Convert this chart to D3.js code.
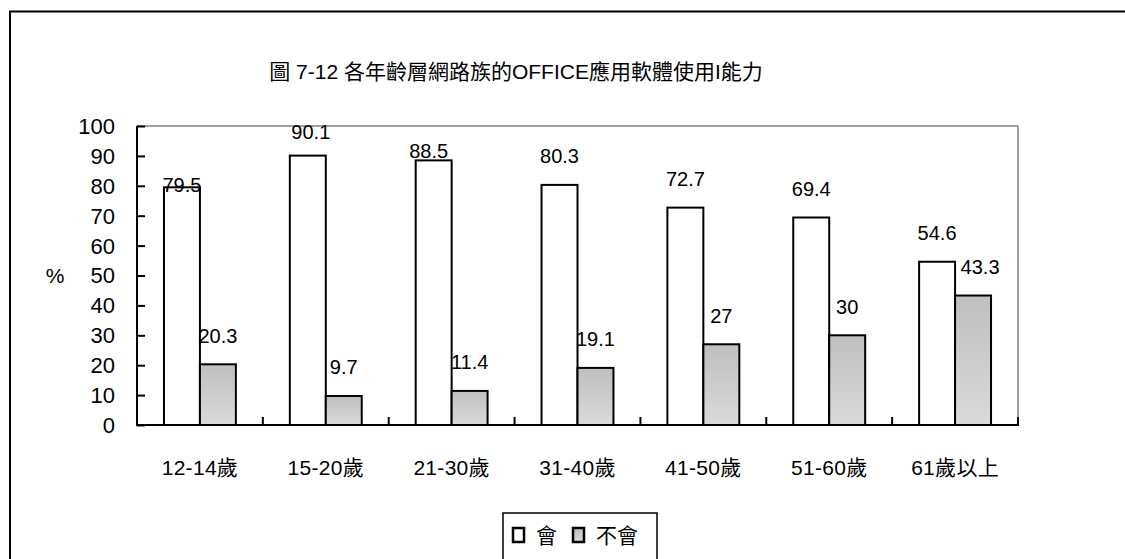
<!DOCTYPE html>
<html>
<head>
<meta charset="utf-8">
<script src="https://cdn.jsdelivr.net/npm/d3@7"></script>
<style>
  html, body { margin: 0; padding: 0; background: #fff; overflow: hidden; }
  svg { display: block; }
  text { font-family: "Liberation Sans", Arial, "Noto Sans CJK TC", sans-serif; fill: #000; }
</style>
</head>
<body>
<svg id="chart" width="1125" height="559"></svg>
<script>
// ---- data ----
const categories = ["12-14歲", "15-20歲", "21-30歲", "31-40歲", "41-50歲", "51-60歲", "61歲以上"];
const seriesNames = ["會", "不會"];
const canValues = [79.5, 90.1, 88.5, 80.3, 72.7, 69.4, 54.6];
const cannotValues = [20.3, 9.7, 11.4, 19.1, 27, 30, 43.3];
const valueLabels = [
  ["79.5", "90.1", "88.5", "80.3", "72.7", "69.4", "54.6"],
  ["20.3", "9.7", "11.4", "19.1", "27", "30", "43.3"]
];
const yTicks = [0, 10, 20, 30, 40, 50, 60, 70, 80, 90, 100];
const titleText = "圖 7-12 各年齡層網路族的OFFICE應用軟體使用I能力";
const yAxisTitle = "%";

// ---- layout ----
const svg = d3.select("#chart");
const plot = { left: 137, right: 1018, top: 126, bottom: 425 };
// label nudges (dx, dy) relative to default placement, per series/category
const labelNudge = {
  "0-0": [0, 26], "0-1": [3, 4.5], "0-2": [-5, 19], "1-6": [7, 0]
};

const x0 = d3.scaleBand().domain(categories).range([plot.left, plot.right]).paddingInner(0).paddingOuter(0);
const x1 = d3.scaleBand().domain(seriesNames).range([0, x0.bandwidth()]).paddingInner(0).paddingOuter(0.75);
const y = d3.scaleLinear().domain([0, 100]).range([plot.bottom, plot.top]);

// gradient for 不會
const defs = svg.append("defs");
const grad = defs.append("linearGradient").attr("id", "gray").attr("x1", 0).attr("y1", 0).attr("x2", 0).attr("y2", 1);
grad.append("stop").attr("offset", "0%").attr("stop-color", "#bfbfbf");
grad.append("stop").attr("offset", "100%").attr("stop-color", "#dadada");
const lgrad = defs.append("linearGradient").attr("id", "lgray").attr("x1", 0).attr("y1", 0).attr("x2", 0).attr("y2", 1);
lgrad.append("stop").attr("offset", "0%").attr("stop-color", "#bdbdbd");
lgrad.append("stop").attr("offset", "100%").attr("stop-color", "#dcdcdc");

// outer border: only top and left edges are visible
svg.append("path").attr("d", "M10,600V11.5H1200")
  .attr("fill", "none").attr("stroke", "#000").attr("stroke-width", 2);

// title
svg.append("text").attr("x", 516).attr("y", 79).attr("text-anchor", "middle")
  .style("font-size", "21px").text(titleText);

// plot frame (gray top & right)
svg.append("line").attr("x1", plot.left).attr("x2", plot.right).attr("y1", plot.top).attr("y2", plot.top)
  .attr("stroke", "#808080").attr("stroke-width", 1.5);
svg.append("line").attr("x1", plot.right).attr("x2", plot.right).attr("y1", plot.top).attr("y2", plot.bottom)
  .attr("stroke", "#808080").attr("stroke-width", 1.5);

// bars
const seriesData = [canValues, cannotValues];
const fills = ["#ffffff", "url(#gray)"];
seriesData.forEach((vals, si) => {
  svg.append("g").selectAll("rect").data(vals).join("rect")
    .attr("x", (d, i) => x0(categories[i]) + x1(seriesNames[si]))
    .attr("y", d => y(d))
    .attr("width", x1.bandwidth())
    .attr("height", d => y(0) - y(d))
    .attr("fill", fills[si])
    .attr("stroke", "#000").attr("stroke-width", 2);
});

// value labels
seriesData.forEach((vals, si) => {
  svg.append("g").selectAll("text").data(vals).join("text")
    .attr("x", (d, i) => {
      const n = labelNudge[si + "-" + i];
      return x0(categories[i]) + x1(seriesNames[si]) + x1.bandwidth() / 2 + (n ? n[0] : 0);
    })
    .attr("y", (d, i) => {
      const n = labelNudge[si + "-" + i];
      return y(d) - 21.5 + (n ? n[1] : 0);
    })
    .attr("text-anchor", "middle")
    .style("font-size", "20px")
    .text((d, i) => valueLabels[si][i]);
});

// y axis
const yAxis = d3.axisRight(y).tickValues(yTicks).tickSize(8).tickFormat("");
const gy = svg.append("g").attr("transform", `translate(${plot.left},0)`).call(yAxis);
gy.select(".domain").attr("stroke", "#000").attr("stroke-width", 2).attr("d", `M0,${plot.top}V${plot.bottom}`);
gy.selectAll(".tick line").attr("stroke", "#000").attr("stroke-width", 2);
svg.append("g").selectAll("text").data(yTicks).join("text")
  .attr("x", 115).attr("y", d => y(d)).attr("dy", "0.36em")
  .attr("text-anchor", "end").style("font-size", "22px").text(d => d);

svg.append("text").attr("x", 55).attr("y", y(50)).attr("dy", "0.36em")
  .attr("text-anchor", "middle").style("font-size", "21px").text(yAxisTitle);

// x axis
const boundaries = categories.map(c => x0(c)).concat([plot.right]);
const gx = svg.append("g");
gx.append("line").attr("x1", plot.left - 1).attr("x2", plot.right + 1).attr("y1", plot.bottom).attr("y2", plot.bottom)
  .attr("stroke", "#000").attr("stroke-width", 2);
gx.selectAll("line.tk").data(boundaries).join("line").attr("class", "tk")
  .attr("x1", d => d).attr("x2", d => d).attr("y1", plot.bottom).attr("y2", plot.bottom - 8)
  .attr("stroke", "#000").attr("stroke-width", 2);
gx.selectAll("text").data(categories).join("text")
  .attr("x", d => x0(d) + x0.bandwidth() / 2).attr("y", 475)
  .attr("text-anchor", "middle").style("font-size", "21px").style("letter-spacing", "0.3px").text(d => d);

// legend
const lg = svg.append("g");
lg.append("rect").attr("x", 503).attr("y", 513).attr("width", 154).attr("height", 80)
  .attr("fill", "#fff").attr("stroke", "#000").attr("stroke-width", 1.5);
const legendItems = [
  { name: seriesNames[0], fill: "#ffffff", x: 513 },
  { name: seriesNames[1], fill: "url(#lgray)", x: 573 }
];
legendItems.forEach(it => {
  lg.append("rect").attr("x", it.x).attr("y", 528).attr("width", 11).attr("height", 14)
    .attr("fill", it.fill).attr("stroke", "#000").attr("stroke-width", 2.5);
  lg.append("text").attr("x", it.x + 23).attr("y", 543).style("font-size", "21px").text(it.name);
});
</script>
</body>
</html>
